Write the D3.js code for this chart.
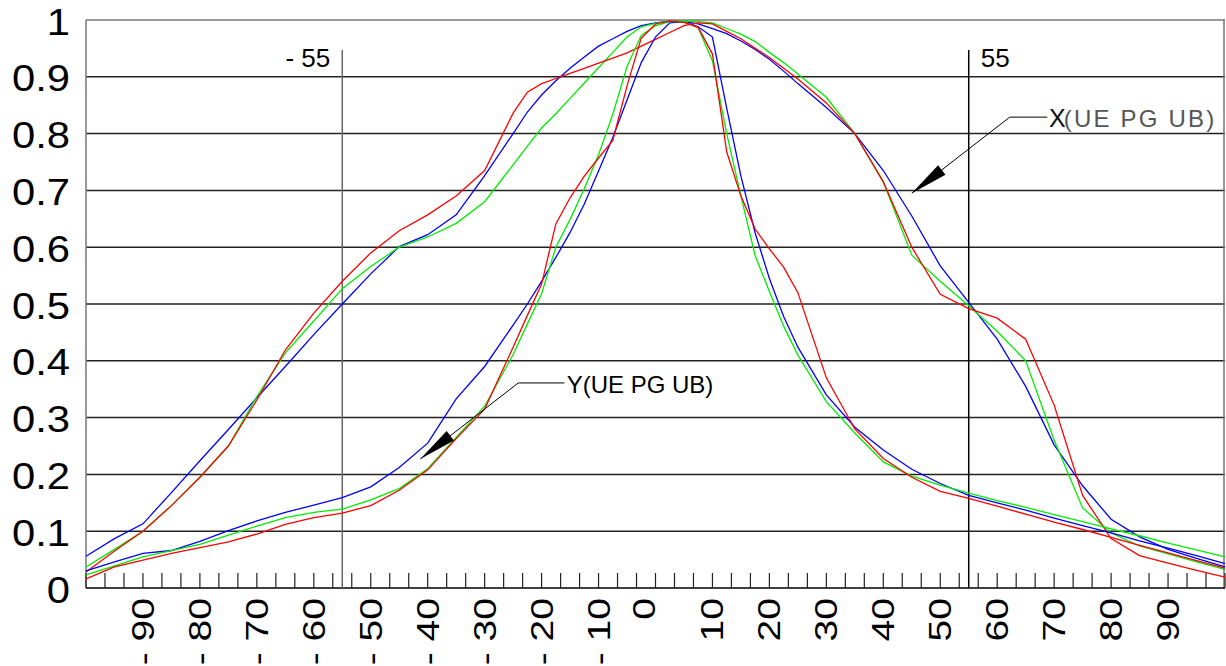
<!DOCTYPE html>
<html>
<head>
<meta charset="utf-8">
<script src="https://cdn.jsdelivr.net/npm/d3@7"></script>
<style>
  html, body { margin: 0; padding: 0; background: #fff; }
  svg { display: block; }
  text { font-family: "Liberation Sans", Arial, sans-serif; }
</style>
</head>
<body>
<svg id="chart" width="1226" height="666"></svg>
<script>
// ---- data ----
const angles = [-100,-95,-90,-85,-80,-75,-70,-65,-60,-55,-50,-45,-40,-35,-30,-25,
  -22.5,-20,-17.5,-15,-12.5,-10,-7.5,-5,-2.5,0,2.5,5,7.5,10,12.5,15,17.5,20,22.5,
  25,30,35,40,45,50,55,60,65,70,75,80,85,90,95,100];

// X (UE PG UB) – wide patterns
const xBlue  = [0.056,0.087,0.113,0.168,0.224,0.279,0.335,0.39,0.446,0.50,0.553,0.601,0.622,0.657,0.726,0.80,
  0.838,0.868,0.893,0.915,0.935,0.954,0.967,0.98,0.99,0.995,0.998,0.997,0.993,0.985,0.976,0.963,0.948,0.931,0.91,
  0.888,0.846,0.80,0.735,0.655,0.567,0.503,0.438,0.355,0.252,0.18,0.121,0.09,0.068,0.052,0.037];
const xGreen = [0.037,0.068,0.10,0.145,0.195,0.25,0.337,0.414,0.47,0.527,0.566,0.60,0.618,0.642,0.68,0.745,
  0.778,0.81,0.835,0.862,0.889,0.916,0.943,0.97,0.988,0.994,0.998,0.998,0.997,0.995,0.985,0.975,0.962,0.943,0.925,
  0.905,0.864,0.80,0.715,0.586,0.54,0.497,0.452,0.40,0.26,0.141,0.097,0.074,0.06,0.046,0.033];
const xRed   = [0.028,0.065,0.10,0.145,0.195,0.25,0.331,0.419,0.484,0.54,0.59,0.629,0.657,0.69,0.735,0.836,
  0.873,0.888,0.897,0.906,0.915,0.924,0.933,0.942,0.954,0.966,0.978,0.99,0.995,0.993,0.98,0.967,0.95,0.934,0.915,
  0.896,0.854,0.80,0.715,0.60,0.517,0.492,0.475,0.438,0.322,0.163,0.087,0.057,0.044,0.031,0.019];

// Y (UE PG UB) – narrow patterns
const yBlue  = [0.03,0.046,0.061,0.066,0.082,0.101,0.118,0.133,0.146,0.159,0.178,0.212,0.255,0.333,0.39,0.463,
  0.50,0.54,0.582,0.626,0.676,0.734,0.793,0.859,0.925,0.97,0.995,0.997,0.988,0.97,0.845,0.725,0.625,0.545,0.478,
  0.424,0.34,0.283,0.243,0.209,0.184,0.163,0.15,0.137,0.123,0.11,0.097,0.083,0.07,0.057,0.043];
const yGreen = [0.023,0.039,0.055,0.066,0.077,0.093,0.109,0.124,0.133,0.139,0.155,0.175,0.21,0.265,0.32,0.411,
  0.465,0.518,0.60,0.649,0.703,0.763,0.834,0.918,0.973,0.99,0.997,0.997,0.986,0.928,0.80,0.69,0.585,0.522,0.461,
  0.41,0.328,0.273,0.222,0.197,0.181,0.167,0.154,0.142,0.129,0.117,0.104,0.092,0.079,0.067,0.055];
const yRed   = [0.016,0.037,0.049,0.061,0.071,0.081,0.095,0.112,0.124,0.132,0.145,0.172,0.208,0.263,0.315,0.424,
  0.48,0.535,0.641,0.687,0.725,0.757,0.788,0.884,0.968,0.993,0.998,0.996,0.987,0.94,0.768,0.69,0.632,0.597,0.565,
  0.52,0.37,0.28,0.228,0.195,0.17,0.158,0.144,0.13,0.116,0.103,0.089,0.075,0.062,0.048,0.035];

const yTickValues = [0,0.1,0.2,0.3,0.4,0.5,0.6,0.7,0.8,0.9,1];
const yTickLabels = ["0","0.1","0.2","0.3","0.4","0.5","0.6","0.7","0.8","0.9","1"];
const xLabelValues = [-90,-80,-70,-60,-50,-40,-30,-20,-10,0,10,20,30,40,50,60,70,80,90];
const xLabelTexts  = ["- 90","- 80","- 70","- 60","- 50","- 40","- 30","- 20","- 10","0",
  "10","20","30","40","50","60","70","80","90"];
const markerAngles = [-55, 55];
const markerLabels = ["- 55", "55"];

const series = [
  {name:"X blue",  values:xBlue,  color:"#0000ff"},
  {name:"X green", values:xGreen, color:"#00ee00"},
  {name:"X red",   values:xRed,   color:"#ff0000"},
  {name:"Y blue",  values:yBlue,  color:"#0000ff"},
  {name:"Y green", values:yGreen, color:"#00ee00"},
  {name:"Y red",   values:yRed,   color:"#ff0000"}
];

// annotation anchor points in data coordinates: tip, elbow, end of leader, text start
const annY = {label:"Y(UE PG UB)", tip:[-41.3,0.227], elbow:[-24.1,0.361], end:[-16.0,0.361], text:[-15.6,0.343]};
const annX = {label:"X", rest:"(UE PG UB)", tip:[45,0.695], elbow:[62.2,0.829], end:[68.8,0.829], text:[69.1,0.812]};

// ---- layout ----
const svg = d3.select("#chart");
const x = d3.scaleLinear().domain([-100,100]).range([86,1225]);
const y = d3.scaleLinear().domain([0,1]).range([588,20]);

// horizontal grid lines
svg.append("g").selectAll("line").data(yTickValues.filter(v => v > 0 && v < 1)).join("line")
  .attr("x1", x(-100)).attr("x2", x(100))
  .attr("y1", d => y(d)).attr("y2", d => y(d))
  .attr("stroke", "#222").attr("stroke-width", 1.5);

// frame
svg.append("line").attr("x1", x(-100)).attr("x2", x(100)).attr("y1", y(1)).attr("y2", y(1))
  .attr("stroke", "#777").attr("stroke-width", 1.5);
svg.append("line").attr("x1", x(-100)).attr("x2", x(-100)).attr("y1", y(1)).attr("y2", y(0))
  .attr("stroke", "#777").attr("stroke-width", 1.5);
svg.append("line").attr("x1", x(100)-1).attr("x2", x(100)-1).attr("y1", y(1)).attr("y2", y(0))
  .attr("stroke", "#777").attr("stroke-width", 1.5);
svg.append("line").attr("x1", x(-100)).attr("x2", x(100)).attr("y1", y(0)).attr("y2", y(0))
  .attr("stroke", "#000").attr("stroke-width", 1.5);

// minor ticks every 10/3 degrees
const minorTicks = d3.range(0, 61).map(i => -100 + i * 200 / 60);
svg.append("g").selectAll("line").data(minorTicks).join("line")
  .attr("x1", d => x(d)).attr("x2", d => x(d))
  .attr("y1", y(0)).attr("y2", y(0) - 15)
  .attr("stroke", "#222").attr("stroke-width", 1.2);

// ±55 markers
svg.append("g").selectAll("line").data(markerAngles).join("line")
  .attr("x1", d => x(d)).attr("x2", d => x(d))
  .attr("y1", 50).attr("y2", y(0))
  .attr("stroke", (d,i) => i === 0 ? "#666" : "#000").attr("stroke-width", 1.5);
svg.append("g").selectAll("text").data(markerAngles).join("text")
  .attr("x", (d,i) => i === 0 ? x(d) - 12 : x(d) + 12)
  .attr("y", 67)
  .attr("text-anchor", (d,i) => i === 0 ? "end" : "start")
  .attr("font-size", 26).attr("fill", "#000")
  .text((d,i) => markerLabels[i]);

// y-axis labels
svg.append("g").selectAll("text").data(yTickValues).join("text")
  .attr("transform", d => `translate(70,${y(d) + 14.5}) scale(1.13,1)`)
  .attr("text-anchor", "end")
  .attr("font-size", 37).attr("fill", "#000")
  .text((d,i) => yTickLabels[i]);

// x-axis labels (rotated)
svg.append("g").selectAll("text").data(xLabelValues).join("text")
  .attr("transform", d => `translate(${x(d) + (d === 0 ? -1 : 11)},598) rotate(-90) scale(1.22,1)`)
  .attr("text-anchor", "end")
  .attr("font-size", 32).attr("fill", "#000")
  .text((d,i) => xLabelTexts[i]);

// curves
const line = d3.line().x((d,i) => x(angles[i])).y(d => y(d)).curve(d3.curveLinear);
svg.append("g").selectAll("path").data(series).join("path")
  .attr("d", s => line(s.values))
  .attr("fill", "none").attr("stroke", s => s.color).attr("stroke-width", 1.3);

// annotations
function arrow(a) {
  const tip = [x(a.tip[0]), y(a.tip[1])];
  const elb = [x(a.elbow[0]), y(a.elbow[1])];
  const end = [x(a.end[0]), y(a.end[1])];
  svg.append("polyline")
    .attr("points", [tip, elb, end].map(p => p.join(",")).join(" "))
    .attr("fill", "none").attr("stroke", "#000").attr("stroke-width", 1);
  const dx = elb[0] - tip[0], dy = elb[1] - tip[1];
  const L = Math.hypot(dx, dy), ux = dx / L, uy = dy / L;
  const len = 38, hw = 6;
  const bx = tip[0] + ux * len, by = tip[1] + uy * len;
  svg.append("polygon")
    .attr("points", [[tip[0], tip[1]], [bx - uy * hw, by + ux * hw], [bx + uy * hw, by - ux * hw]]
      .map(p => p.join(",")).join(" "))
    .attr("fill", "#000");
}
arrow(annY);
arrow(annX);
svg.append("text").attr("x", x(annY.text[0])).attr("y", y(annY.text[1]))
  .attr("font-size", 24).attr("fill", "#000").text(annY.label);
const tX = svg.append("text").attr("x", x(annX.text[0])).attr("y", y(annX.text[1]));
tX.append("tspan").attr("font-size", 25).attr("fill", "#111").text(annX.label);
tX.append("tspan").attr("dx", -2).attr("font-size", 24).attr("fill", "#555")
  .attr("letter-spacing", 2.2).text(annX.rest);
</script>
</body>
</html>
